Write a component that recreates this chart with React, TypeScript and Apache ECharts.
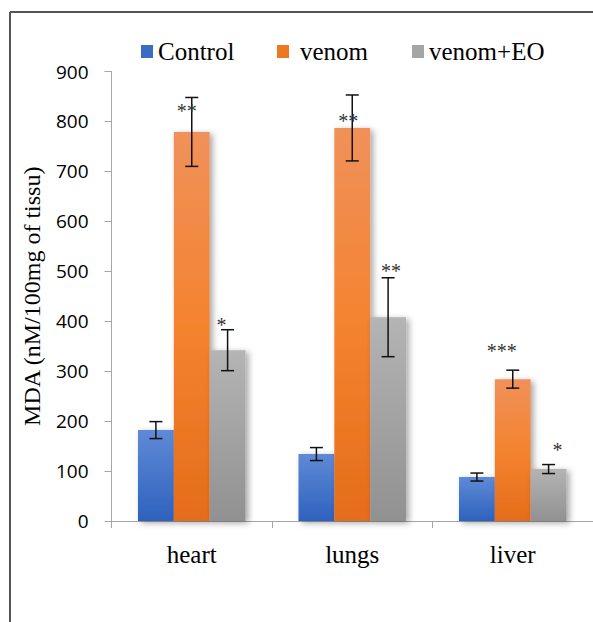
import React, { useEffect, useRef } from "react";
import * as echarts from "echarts";

const categories = ["heart", "lungs", "liver"];
const seriesNames = ["Control", "venom", "venom+EO"];

const controlValues = [182, 134, 88];
const controlErrors = [17, 13, 8];
const venomValues = [779, 787, 284];
const venomErrors = [69, 66, 18];
const venomEOValues = [342, 408, 104];
const venomEOErrors = [41, 79, 9];

const controlStars = ["", "", ""];
const controlStarLevels = [0, 0, 0];
const venomStars = ["**", "**", "***"];
const venomStarLevels = [829, 809, 349];
const venomEOStars = ["*", "**", "*"];
const venomEOStarLevels = [401, 509, 150];

const yTicks = [0, 100, 200, 300, 400, 500, 600, 700, 800, 900];

// style: small horizontal nudges of the star labels (px)
const starNudge = [
  [0, 0, 0],
  [-5, -4, -11],
  [-6, 3, 9],
];

const GAP = 0.33;

function grad(stops: [number, string][]) {
  return new echarts.graphic.LinearGradient(
    0,
    0,
    0,
    1,
    stops.map(([offset, color]) => ({ offset, color }))
  );
}

const barColors = [
  grad([
    [0, "#5f8ad6"],
    [1, "#2e62be"],
  ]),
  grad([
    [0, "#f0915a"],
    [0.5, "#f4832f"],
    [1, "#e56c1a"],
  ]),
  grad([
    [0, "#b4b4b4"],
    [1, "#919191"],
  ]),
];
const legendColors = ["#3a6cc6", "#ee7722", "#a5a5a5"];

const groups = [
  { values: controlValues, errors: controlErrors, stars: controlStars, levels: controlStarLevels },
  { values: venomValues, errors: venomErrors, stars: venomStars, levels: venomStarLevels },
  { values: venomEOValues, errors: venomEOErrors, stars: venomEOStars, levels: venomEOStarLevels },
];

export default function App() {
  const ref = useRef<HTMLDivElement>(null);

  useEffect(() => {
    if (!ref.current) return;
    const chart = echarts.init(ref.current, null, { renderer: "svg" });

    const barSeries = groups.map((g, gi) => ({
      type: "bar",
      name: seriesNames[gi],
      data: g.values,
      barGap: "0%",
      barCategoryGap: GAP * 100 + "%",
      itemStyle: {
        color: barColors[gi],
        shadowBlur: 6,
        shadowColor: "rgba(0,0,0,0.35)",
        shadowOffsetX: 3,
        shadowOffsetY: 2,
      },
      z: 2,
    }));

    const errSeries = groups.map((g, gi) => ({
      type: "custom",
      name: "err" + gi,
      z: 10,
      data: g.values.map((v, i) => [i, v, g.errors[i]]),
      renderItem: (params: any, api: any) => {
        const ci = api.value(0);
        const mean = api.value(1);
        const err = api.value(2);
        const band = api.size([1, 0])[0];
        const barW = (band * (1 - GAP)) / 3;
        const cx = api.coord([ci, mean])[0] + (gi - 1) * barW;
        const yTop = api.coord([ci, mean + err])[1];
        const yBot = api.coord([ci, mean - err])[1];
        const cap = 6.5;
        const ls = { stroke: "#111", lineWidth: 1.5 };
        const children: any[] = [
          { type: "line", shape: { x1: cx, y1: yTop, x2: cx, y2: yBot }, style: ls },
          { type: "line", shape: { x1: cx - cap, y1: yTop, x2: cx + cap, y2: yTop }, style: ls },
          { type: "line", shape: { x1: cx - cap, y1: yBot, x2: cx + cap, y2: yBot }, style: ls },
        ];
        const star = g.stars[params.dataIndex];
        if (star) {
          const sy = api.coord([ci, g.levels[params.dataIndex]])[1];
          children.push({
            type: "text",
            x: cx + starNudge[gi][params.dataIndex],
            y: sy + 4,
            style: {
              text: star,
              fontFamily: "Liberation Serif",
              fontSize: 20,
              fill: "#333",
              align: "center",
              verticalAlign: "middle",
            },
          });
        }
        return { type: "group", children };
      },
    }));

    const legendLefts = [136, 272, 407];
    const legends = seriesNames.map((n, i) => ({
      show: true,
      left: legendLefts[i],
      top: 34,
      icon: "rect",
      itemWidth: 12,
      itemHeight: 13,
      data: [{ name: n, itemStyle: { color: legendColors[i] } }],
      textStyle: {
        fontFamily: "Liberation Serif",
        fontSize: 25,
        color: "#000",
        lineHeight: 20,
        padding: i === 1 ? [0, 0, 0, 6] : [0, 0, 0, 0],
      },
    }));

    chart.setOption({
      animation: false,
      backgroundColor: "#fff",
      legend: legends,
      grid: { left: 111.5, top: 71.5, width: 491, height: 449.5, containLabel: false },
      xAxis: {
        type: "category",
        data: categories,
        axisLine: { lineStyle: { color: "#a6a6a6", width: 1 } },
        axisTick: { show: true, length: 7, lineStyle: { color: "#a6a6a6" } },
        axisLabel: {
          fontFamily: "Liberation Serif",
          fontSize: 25,
          color: "#000",
          margin: 21,
        },
      },
      yAxis: {
        type: "value",
        min: 0,
        max: yTicks[yTicks.length - 1],
        interval: yTicks[1] - yTicks[0],
        splitLine: { show: false },
        axisLine: { show: true, lineStyle: { color: "#a6a6a6", width: 1 } },
        axisTick: { show: true, length: 7, lineStyle: { color: "#a6a6a6" } },
        axisLabel: {
          fontFamily: "Open Sans",
          fontSize: 19,
          color: "#000",
          margin: 23,
        },
        name: "MDA (nM/100mg of tissu)",
        nameLocation: "middle",
        nameRotate: 90,
        nameGap: 68,
        nameTextStyle: {
          fontFamily: "Liberation Serif",
          fontSize: 24,
          color: "#000",
        },
      },
      graphic: [
        { type: "line", shape: { x1: 10, y1: 12, x2: 10, y2: 622 }, style: { stroke: "#555", lineWidth: 2 } },
        { type: "line", shape: { x1: 10, y1: 12, x2: 593, y2: 12 }, style: { stroke: "#555", lineWidth: 2 } },
      ],
      series: [...barSeries, ...errSeries],
    });

    return () => chart.dispose();
  }, []);

  return (
    <div
      ref={ref}
      style={{ position: "fixed", left: 0, top: 0, width: 593, height: 622 }}
    />
  );
}
